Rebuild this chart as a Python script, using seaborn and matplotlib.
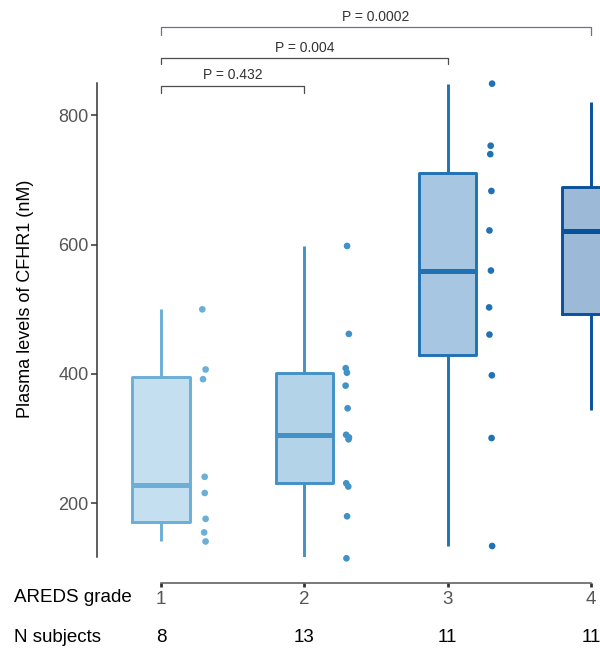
import numpy as np
import pandas as pd
import matplotlib
matplotlib.use("Agg")
import matplotlib.pyplot as plt
import matplotlib.transforms as mtransforms
import seaborn as sns

# Plasma CFHR1 (nM) per AREDS grade
grades = [1, 2, 3, 4]
grade1_values = [141, 155, 176, 216, 241, 392, 407, 500]
grade2_values = [115, 180, 226, 231, 299, 302, 306, 347, 382, 402, 409, 462, 598]
grade3_values = [134, 301, 398, 461, 503, 560, 622, 683, 740, 753, 849]
grade4_values = [345, 420, 485, 500, 580, 621, 655, 683, 696, 760, 821]
n_subjects = [8, 13, 11, 11]

# Pairwise comparisons against grade 1
comparisons = [(1, 2), (1, 3), (1, 4)]
p_labels = ["P = 0.432", "P = 0.004", "P = 0.0002"]
ytick_values = [200, 400, 600, 800]

line_colors = ["#6baed6", "#4292c6", "#2171b5", "#08519c"]


def lighten(hex_color, alpha=0.4):
    rgb = np.array(matplotlib.colors.to_rgb(hex_color))
    return tuple(1 - alpha + alpha * rgb)


fill_colors = [lighten(c) for c in line_colors]

records = []
for g, vals in zip(grades, [grade1_values, grade2_values, grade3_values, grade4_values]):
    for v in vals:
        records.append({"grade": g, "label": str(g), "value": v})
df = pd.DataFrame(records)
df["point_x"] = df["grade"] + 0.3

sns.set_style("white")
plt.rcParams["font.family"] = ["Liberation Sans", "DejaVu Sans"]

W, H = 600, 653
fig = plt.figure(figsize=(W / 100, H / 100), dpi=100)
ax = fig.add_axes([97 / W, (H - 557) / H, (W - 97) / W, (557 - 83) / H])

fill_pal = {str(g): c for g, c in zip(grades, fill_colors)}
line_pal = {str(g): c for g, c in zip(grades, line_colors)}

# box fill
sns.boxplot(data=df, x="grade", y="value", hue="label", palette=fill_pal,
            native_scale=True, width=0.4, dodge=False, linewidth=0, saturation=1,
            showfliers=False, showcaps=False, legend=False, ax=ax)
# box outline, whiskers and median
sns.boxplot(data=df, x="grade", y="value", hue="label", palette=line_pal,
            native_scale=True, width=0.4, dodge=False, fill=False, linewidth=2.1,
            saturation=1, medianprops=dict(linewidth=3.6), showfliers=False,
            showcaps=False, legend=False, ax=ax)

# individual subjects beside each box
np.random.seed(4)
sns.stripplot(data=df, x="point_x", y="value", hue="label", palette=line_pal,
              native_scale=True, jitter=0.012, size=4.8, linewidth=0,
              legend=False, ax=ax, zorder=3)
for coll in ax.collections:
    coll.set_clip_on(False)

ax.set_xlim(1 - (161 - 97) / 143.3, 1 + (600 - 161) / 143.3)
ax.set_ylim(117, 850)
ax.set_yticks(ytick_values)
ax.set_yticklabels([str(v) for v in ytick_values])
ax.set_xticks(grades)
ax.set_xticklabels([str(g) for g in grades])
ax.set_xlabel("")
ax.set_ylabel("Plasma levels of CFHR1 (nM)", fontsize=13, color="black")
ax.yaxis.set_label_coords(-0.125, 0.545)

for s in ["top", "right"]:
    ax.spines[s].set_visible(False)
ax.spines["left"].set_color("#333333")
ax.spines["left"].set_linewidth(1.1)
ax.spines["bottom"].set_color("#555555")
ax.spines["bottom"].set_linewidth(1.1)
ax.spines["bottom"].set_position(("outward", 26 * 0.72))
ax.spines["bottom"].set_bounds(1, 4)

ax.tick_params(axis="y", direction="out", length=4, width=1.1, color="#333333",
               labelsize=13, labelcolor="#555555", pad=2, left=True)
ax.tick_params(axis="x", direction="out", length=3, width=2, color="#333333",
               labelsize=13.5, labelcolor="#555555", pad=3, bottom=True)
ax.grid(False)

# significance brackets
bracket_levels = [(846, 835, 863), (888, 880, 904), (936, 924, 952)]
bracket_colors = ["#4d4d4d", "#4d4d4d", "#6f6a9f"]
for (a, b), label, (top, leg, ty), col in zip(comparisons, p_labels, bracket_levels, bracket_colors):
    ax.plot([a, a, b, b], [leg, top, top, leg], color=col, lw=0.9, clip_on=False)
    ax.text((a + b) / 2, ty, label, ha="center", va="center", fontsize=10,
            color="#333333", clip_on=False)

# table rows under the axis
fig.text(14 / W, (H - 598) / H, "AREDS grade", ha="left", va="center",
         fontsize=13.5, color="black")
fig.text(14 / W, (H - 638) / H, "N subjects", ha="left", va="center",
         fontsize=13.5, color="black")
trans = mtransforms.blended_transform_factory(ax.transData, fig.transFigure)
for g, n in zip(grades, n_subjects):
    ax.text(g, (H - 638) / H, str(n), transform=trans, ha="center", va="center",
            fontsize=13.5, color="black", clip_on=False)

fig.savefig("out.png", dpi=100)
